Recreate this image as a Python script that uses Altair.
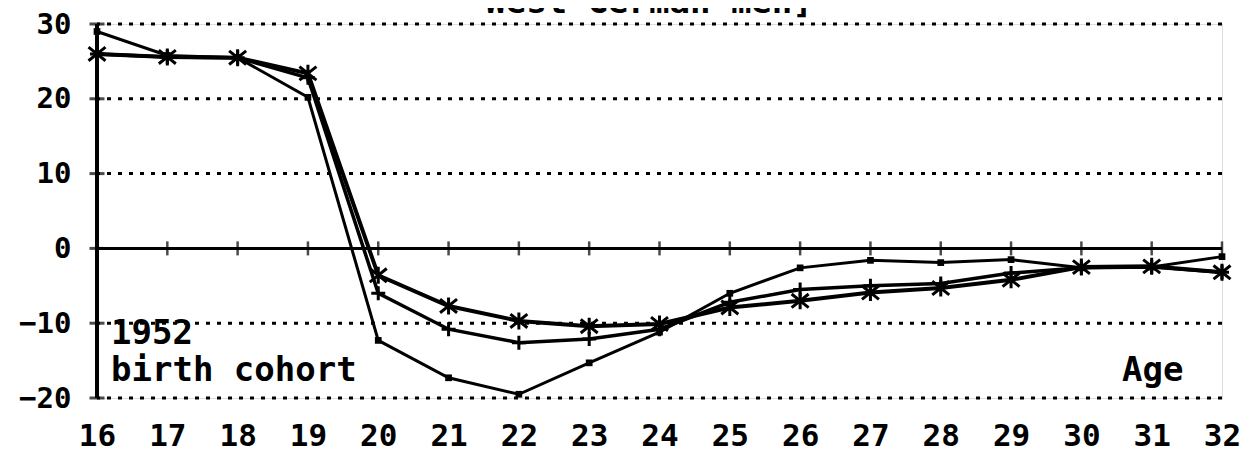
import altair as alt
import pandas as pd

ages = list(range(16, 33))
square_vals = [29.0, 25.8, 25.5, 20.2, -12.3, -17.3, -19.5, -15.3, -11.2, -6.0, -2.6, -1.6, -1.9, -1.5, -2.6, -2.5, -1.1]
plus_vals = [26.0, 25.6, 25.5, 22.8, -6.0, -10.8, -12.6, -12.1, -10.8, -7.2, -5.5, -5.0, -4.7, -3.3, -2.6, -2.5, -3.2]
star_vals = [26.0, 25.6, 25.5, 23.4, -3.6, -7.7, -9.7, -10.4, -10.1, -7.9, -7.0, -5.9, -5.3, -4.2, -2.5, -2.4, -3.2]
grid_vals = [30, 20, 10, -10, -20]
y_ticks = [-20, -10, 0, 10, 20, 30]
title_text = "West German men]"
note_year = "1952"
note_cohort = "birth cohort"
x_title = "Age"

FONT = "DejaVu Sans Mono"

df_sq = pd.DataFrame({"age": ages, "v": square_vals})
df_pl = pd.DataFrame({"age": ages, "v": plus_vals})
df_st = pd.DataFrame({"age": ages, "v": star_vals})
df_grid = pd.DataFrame({"g": grid_vals})
df_ages = pd.DataFrame({"age": ages})
df_yt = pd.DataFrame({"y": y_ticks})

xs = alt.Scale(domain=[16, 32], nice=False)
ys = alt.Scale(domain=[-20, 30], nice=False)

X = alt.X("age:Q", scale=xs, axis=alt.Axis(
    values=ages, format="d", title=None, grid=False, domain=False, ticks=False,
    labelFont=FONT, labelFontWeight="bold", labelFontSize=31, labelColor="black",
    labelPadding=23, labelFlush=False, labelOverlap=False))
Y = alt.Y("v:Q", scale=ys, axis=alt.Axis(
    values=y_ticks, format="d", title=None, grid=False, domain=False, ticks=False,
    labelFont=FONT, labelFontWeight="bold", labelFontSize=29, labelColor="black",
    labelPadding=26, labelFlush=False, labelOverlap=False))

grid = alt.Chart(df_grid).mark_rule(color="black", strokeWidth=3, strokeDash=[4, 7]).encode(
    y=alt.Y("g:Q", scale=ys))
zero = alt.Chart(df_ages).mark_rule(color="black", strokeWidth=3).encode(
    y=alt.datum(0, scale=ys))
left = alt.Chart(df_ages).mark_rule(color="black", strokeWidth=3).encode(
    x=alt.datum(16, scale=xs))
zero_ticks = alt.Chart(df_ages).mark_point(shape="M0,-1L0,1", color="black", strokeWidth=2.5,
                                           size=196, filled=False).encode(
    x=alt.X("age:Q", scale=xs), y=alt.datum(0, scale=ys))
left_ticks = alt.Chart(df_yt).mark_point(shape="M-1,0L1,0", color="black", strokeWidth=3,
                                         size=225, filled=False).encode(
    x=alt.datum(16, scale=xs), y=alt.Y("y:Q", scale=ys))

line_sq = alt.Chart(df_sq).mark_line(color="black", strokeWidth=3).encode(x=X, y=Y)
line_pl = alt.Chart(df_pl).mark_line(color="black", strokeWidth=3.5).encode(x=X, y=Y)
line_st = alt.Chart(df_st).mark_line(color="black", strokeWidth=4).encode(x=X, y=Y)

pt_sq = alt.Chart(df_sq).mark_point(shape="square", filled=True, color="black", size=45, opacity=1).encode(x=X, y=Y)
pt_pl = alt.Chart(df_pl).mark_point(shape="M-1,0L1,0M0,-1L0,1", filled=False, color="black",
                                    strokeWidth=3, size=196, opacity=1).encode(x=X, y=Y)
pt_st = alt.Chart(df_st).mark_point(shape="M0,-1L0,1M-1,-0.8L1,0.8M-1,0.8L1,-0.8", filled=False,
                                    color="black", strokeWidth=3, size=289, opacity=1).encode(x=X, y=Y)

def txt(s, x, y, size=34, align="left"):
    return alt.Chart(pd.DataFrame({"t": [s]})).mark_text(
        font=FONT, fontWeight="bold", fontSize=size, color="black", align=align,
        baseline="alphabetic").encode(text="t:N", x=alt.value(x), y=alt.value(y))

t_title = txt(title_text, 552, -11, align="center")
t_year = txt(note_year, 14, 320)
t_cohort = txt(note_cohort, 14, 357)
t_age = txt(x_title, 1025, 357)

chart = alt.layer(
    grid, zero, left, zero_ticks, left_ticks,
    line_sq, line_pl, line_st, pt_sq, pt_pl, pt_st,
    t_title, t_year, t_cohort, t_age
).properties(
    width=1125, height=374,
    autosize=alt.AutoSizeParams(type="none"),
    padding={"left": 89, "top": 16, "right": 25, "bottom": 57},
).configure_view(stroke=None).configure(background="white")

chart.save("out.html", embed_options={"renderer": "svg", "actions": False})
